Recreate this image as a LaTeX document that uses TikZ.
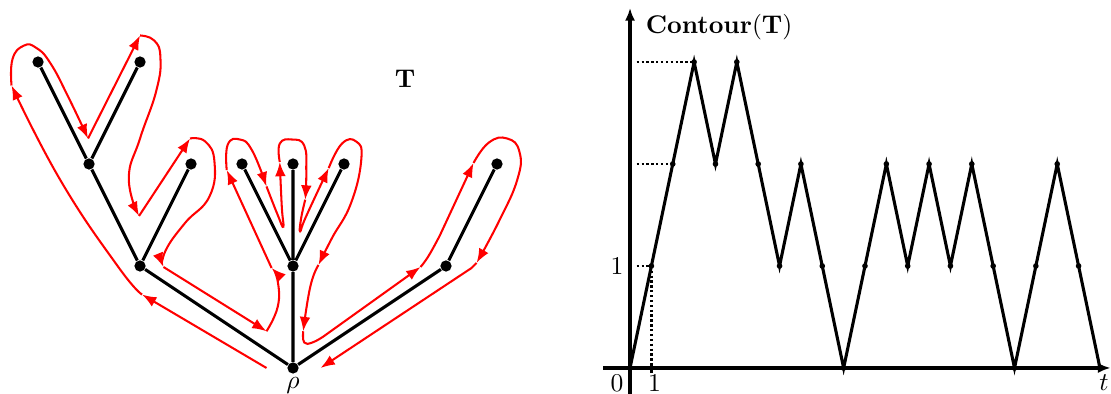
\documentclass[tikz,border=0pt]{standalone}
\usepackage{amsmath}
\usepackage{tikz}
\usetikzlibrary{arrows.meta,positioning}

\begin{document}
\begin{tikzpicture}[
  x=1.4cm, y=1.4cm,
  vertex/.style={circle, fill, inner sep=0pt, minimum size=4.4pt},
  branch/.style={line width=1.2pt},
  tour/.style={red, line width=0.8pt, -{Latex[length=5.6pt, width=4.2pt]}},
  axisline/.style={line width=1.3pt, -{Latex[length=5pt, width=4pt]}},
  walk/.style={line width=1.2pt},
  guide/.style={densely dotted, line width=0.9pt}
]
\useasboundingbox (-2.873,-0.255) rectangle (8.020,3.608);

% the tree
\node[vertex] (rho) at (0,0) {};
\node[vertex] (a) at (-1.5,1) {};
\node[vertex] (b) at (-2,2) {};
\node[vertex] (b1) at (-2.5,3) {};
\node[vertex] (b2) at (-1.5,3) {};
\node[vertex] (a2) at (-1,2) {};
\node[vertex] (c) at (0,1) {};
\node[vertex] (c1) at (-0.5,2) {};
\node[vertex] (c2) at (0,2) {};
\node[vertex] (c3) at (0.5,2) {};
\node[vertex] (d) at (1.5,1) {};
\node[vertex] (d1) at (2,2) {};
\node[below=0pt of rho, inner sep=1pt] (rholab) {$\rho$};
\node (tlab) at (1.1,2.84) {$\mathbf{T}$};

\draw[branch] (rho) -- (a) (a) -- (b) (b) -- (b1) (b) -- (b2) (a) -- (a2);
\draw[branch] (rho) -- (c) (c) -- (c1) (c) -- (c2) (c) -- (c3);
\draw[branch] (rho) -- (d) (d) -- (d1);

% contour around the tree
\begin{scope}[smooth, tension=0.8]
\draw[tour] (-0.26,0) -- (-1.48,0.72);
\draw[tour] plot coordinates {(-1.48,0.72) (-1.72,1.00) (-2.28,1.84) (-2.76,2.77)};
\draw[tour] plot coordinates {(-2.76,2.77) (-2.75,3.03) (-2.64,3.16) (-2.52,3.14) (-2.38,2.99) (-2.20,2.65) (-2.01,2.25)};
\draw[tour] (-2.01,2.25) -- (-1.50,3.26);
\draw[tour] plot coordinates {(-1.50,3.26) (-1.36,3.21) (-1.30,3.04) (-1.34,2.72) (-1.50,2.25) (-1.61,1.86) (-1.51,1.49)};
\draw[tour] (-1.51,1.49) -- (-1.01,2.25);
\draw[tour] plot coordinates {(-1.01,2.25) (-0.86,2.22) (-0.77,2.02) (-0.82,1.68) (-1.06,1.42) (-1.25,1.15) (-1.27,0.99)};
\draw[tour] (-1.27,0.99) -- (-0.26,0.36);
\draw[tour] plot coordinates {(-0.26,0.36) (-0.15,0.60) (-0.15,0.85) (-0.21,0.98)};
\draw[tour] (-0.21,0.98) -- (-0.65,1.94);
\draw[tour] plot coordinates {(-0.65,1.94) (-0.64,2.19) (-0.52,2.24) (-0.40,2.13) (-0.26,1.78)};
\draw[tour] plot coordinates {(-0.26,1.78) (-0.15,1.50) (-0.095,1.385) (-0.11,1.58) (-0.13,2.02)};
\draw[tour] plot coordinates {(-0.13,2.02) (-0.13,2.20) (-0.01,2.24) (0.11,2.18) (0.13,1.93) (0.12,1.65)};
\draw[tour] plot coordinates {(0.12,1.65) (0.08,1.47) (0.07,1.34) (0.13,1.49) (0.35,1.96)};
\draw[tour] plot coordinates {(0.35,1.96) (0.48,2.20) (0.62,2.22) (0.67,2.05) (0.57,1.62) (0.38,1.27) (0.25,1.01)};
\draw[tour] plot coordinates {(0.25,1.01) (0.17,0.80) (0.10,0.36)};
\draw[tour] plot coordinates {(0.10,0.36) (0.11,0.25) (0.19,0.25) (0.30,0.31)} -- (1.25,0.99);
\draw[tour] plot coordinates {(1.25,0.99) (1.33,1.10) (1.44,1.30)} -- (1.77,2.01);
\draw[tour] plot coordinates {(1.77,2.01) (1.92,2.21) (2.10,2.25) (2.22,2.12) (2.20,1.85) (2.02,1.44) (1.80,1.03)};
\draw[tour] (1.80,1.03) -- (1.75,0.98) -- (0.27,0);
\end{scope}

% contour function
\begin{scope}[xshift=4.626cm, x=0.2932cm]
  \draw[axisline] (-1.26,0) -- (22.5,0);
  \draw[axisline] (0,-0.26) -- (0,3.53);
  \draw[line width=1.2pt] (1,-0.05) -- (1,0.05);
  \draw[guide] (0.31,3) -- (3,3);
  \draw[guide] (0.31,2) -- (2,2);
  \draw[guide] (0.31,1) -- (1,1) -- (1,0);
  \foreach \h [count=\i from 0] in {0,1,2,3,2,3,2,1,2,1,0,1,2,1,2,1,2,1,0,1,2,1,0}
    \coordinate (p\i) at (\i,\h);
  \draw[walk] (p0) \foreach \i in {1,...,22} { -- (p\i) };
  \foreach \i in {0,...,22} \fill (p\i) circle (1.1pt);
  \node (zero) at (-0.61,-0.147) {$0$};
  \node (one) at (1.15,-0.147) {$1$};
  \node (tt) at (22.19,-0.147) {$t$};
  \node (oneh) at (-0.61,1) {$1$};
  \node (title) at (4.17,3.343) {$\mathbf{Contour}(\mathbf{T})$};
\end{scope}
\end{tikzpicture}
\end{document}
